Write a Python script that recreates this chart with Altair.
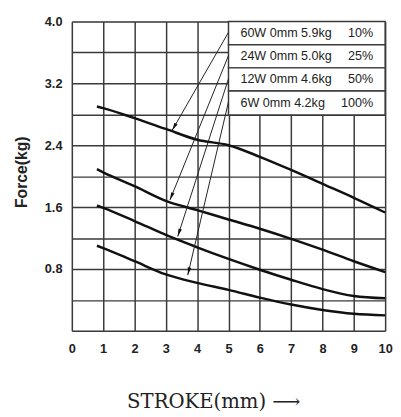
import math
import altair as alt
import pandas as pd

# ---- data ----
stroke_x = [0.8, 1, 2, 3, 4, 5, 6, 7, 8, 9, 10]
force_60w = [2.90, 2.88, 2.75, 2.61, 2.47, 2.40, 2.25, 2.08, 1.90, 1.72, 1.53]
force_24w = [2.09, 2.05, 1.87, 1.68, 1.56, 1.44, 1.32, 1.19, 1.05, 0.90, 0.76]
force_12w = [1.62, 1.59, 1.42, 1.24, 1.08, 0.93, 0.79, 0.66, 0.54, 0.45, 0.42]
force_6w = [1.10, 1.07, 0.90, 0.73, 0.62, 0.53, 0.43, 0.34, 0.27, 0.22, 0.20]

series_names = ["60W", "24W", "12W", "6W"]
legend_left = ["60W 0mm 5.9kg", "24W 0mm 5.0kg", "12W 0mm 4.6kg", "6W 0mm 4.2kg"]
legend_right = ["10%", "25%", "50%", "100%"]
row_top = [4.0, 3.7, 3.4, 3.1]
row_bottom = [3.7, 3.4, 3.1, 2.79]

arrow_x_start = [5.0, 5.0, 5.0, 5.0]
arrow_y_start = [3.86, 3.56, 3.26, 2.96]
arrow_x_end = [3.2, 3.13, 3.38, 3.7]
arrow_y_end = [2.59, 1.69, 1.22, 0.72]

x_ticks = list(range(0, 11))
y_grid = [round(i * 0.4, 1) for i in range(11)]

# ---- tables ----
rows = []
for name, vals in zip(series_names, [force_60w, force_24w, force_12w, force_6w]):
    for xv, yv in zip(stroke_x, vals):
        rows.append({"series": name, "x": xv, "y": yv})
curves = pd.DataFrame(rows)

W, H = 319, 315
sx, sy = W / 10.0, H / 4.0
arrows = []
for xs, ys, xe, ye in zip(arrow_x_start, arrow_y_start, arrow_x_end, arrow_y_end):
    dx, dy = (xe - xs) * sx, -(ye - ys) * sy
    ang = math.degrees(math.atan2(dx, -dy)) % 360
    arrows.append({"x": xs, "y": ys, "x2": xe, "y2": ye, "angle": ang})
arrows = pd.DataFrame(arrows)

table = pd.DataFrame({
    "x": [5.0] * 4, "x2": [10.0] * 4, "y": row_bottom, "y2": row_top,
    "left": legend_left, "right": legend_right,
    "yc": [(a + b) / 2 for a, b in zip(row_top, row_bottom)],
    "xl": [5.38] * 4, "xr": [9.62] * 4,
})

GRID = "#3a3a3a"
xscale = alt.Scale(domain=[0, 10], nice=False, zero=False)
yscale = alt.Scale(domain=[0, 4], nice=False)

xaxis = alt.Axis(values=x_ticks, grid=True, gridColor=GRID, gridWidth=1.5, gridOpacity=1,
                 domain=False, ticks=False, labelFont="Liberation Sans", labelFontWeight="bold",
                 labelFontSize=13, labelColor="#222", labelPadding=12, labelFlush=False,
                 labelOverlap=False, title="STROKE(mm) ⟶", titleFont="DejaVu Serif",
                 titleFontWeight="normal", titleFontSize=20, titleColor="#222",
                 titleX=144, titleY=78, titleAlign="center", titleBaseline="alphabetic")
yaxis = alt.Axis(values=y_grid, grid=True, gridColor=GRID, gridWidth=1.5, gridOpacity=1,
                 domain=False, ticks=False, labelFont="Liberation Sans", labelFontWeight="bold",
                 labelFontSize=13, labelColor="#222", labelPadding=10, labelOverlap=False,
                 labelExpr="(round(datum.value*10) % 8 == 0 && datum.value > 0) ? format(datum.value, '.1f') : ''",
                 title="Force(kg)", titleFont="Liberation Sans", titleFontWeight="bold",
                 titleFontSize=16, titleColor="#222", titlePadding=15, titleY=153)

X = alt.X("x:Q", scale=xscale, axis=xaxis)
Y = alt.Y("y:Q", scale=yscale, axis=yaxis)

lines = alt.Chart(curves).mark_line(color="#111", strokeWidth=2.5, interpolate="monotone").encode(
    x=X, y=Y, detail="series:N")

rects = alt.Chart(table).mark_rect(fill="white", stroke=GRID, strokeWidth=1.5).encode(
    x=X, x2="x2:Q", y=Y, y2="y2:Q")

txt_l = alt.Chart(table).mark_text(align="left", baseline="middle", font="Liberation Sans",
                                   fontSize=12.8, color="#222").encode(
    x=alt.X("xl:Q", scale=xscale, axis=xaxis), y=alt.Y("yc:Q", scale=yscale, axis=yaxis), text="left:N")
txt_r = alt.Chart(table).mark_text(align="right", baseline="middle", font="Liberation Sans",
                                   fontSize=12.8, color="#222").encode(
    x=alt.X("xr:Q", scale=xscale, axis=xaxis), y=alt.Y("yc:Q", scale=yscale, axis=yaxis), text="right:N")

arrow_lines = alt.Chart(arrows).mark_rule(color="#222", strokeWidth=1).encode(
    x=X, y=Y, x2="x2:Q", y2="y2:Q")
arrow_heads = alt.Chart(arrows).mark_point(shape="M0,0L0.45,2L-0.45,2Z", filled=True, size=64,
                                           color="#111", opacity=1).encode(
    x=alt.X("x2:Q", scale=xscale, axis=xaxis), y=alt.Y("y2:Q", scale=yscale, axis=yaxis),
    angle=alt.Angle("angle:Q", scale=None))

chart = alt.layer(lines, rects, txt_l, txt_r, arrow_lines, arrow_heads).properties(
    width=W, height=H,
    padding={"left": 65, "top": 10, "right": 8, "bottom": 82},
    autosize=alt.AutoSizeParams(type="none"),
).configure_view(stroke=None).configure(background="white")

chart.save("out.html", embed_options={"renderer": "svg", "actions": False})
